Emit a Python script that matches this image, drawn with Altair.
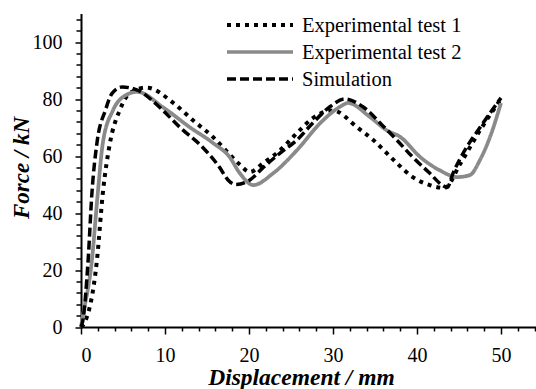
import altair as alt
import pandas as pd

# Force-displacement curves (displacement in mm, force in kN)
series_names = ["Experimental test 1", "Experimental test 2", "Simulation"]
series_colors = ["black", "#8a8a8a", "black"]
series_dashes = [[4, 5], [1, 0], [9, 4]]
series_widths = [4, 3.5, 3.5]

exp1_disp = [0, 0.5, 1.9, 2.6, 3.45, 4.6, 5.8, 7.8, 11.0, 13.3, 15.7, 17.7, 18.9, 20.1,
             21.7, 23.7, 25.7, 27.6, 30.0, 32.9, 34.8, 36.4, 37.6, 39.5, 41.5, 43.3,
             45.1, 47.5, 50.0]
exp1_force = [0, 2, 23.5, 47, 64.6, 76, 82, 84, 78.6, 72.6, 66.7, 60.5, 57, 54.4,
              57.5, 62, 68, 73.3, 76, 70, 65.6, 61, 57.5, 52.6, 49.8, 48.8,
              57, 69, 80]

exp2_disp = [0, 0.2, 1.3, 2.0, 2.6, 3.8, 5.0, 6.7, 9.8, 13.0, 15.7, 17.7, 18.9, 20.5,
             22.9, 25.7, 28.5, 30.8, 31.8, 34.4, 36.4, 38.0, 40.4, 42.7, 44.8, 46.3,
             47.5, 48.7, 50.0]
exp2_force = [0, 3.5, 23.5, 47, 64.6, 76, 80.7, 82.5, 77, 70, 64.6, 59.6, 54, 49.8,
              54, 62, 71.6, 77.2, 78.6, 73.7, 69, 66.7, 59.6, 55, 52.6, 53.3,
              58.6, 66.7, 78.6]

sim_disp = [0, 0.2, 0.85, 1.3, 1.9, 2.9, 3.7, 4.9, 6.8, 9.4, 11.8, 14.5, 16.5, 17.5,
            18.4, 20.1, 21.7, 23.7, 25.7, 27.6, 29.6, 31.4, 33.6, 35.8, 37.6, 39.5,
            41.5, 43.0, 43.6, 44.3, 45.9, 47.5, 50.0]
sim_force = [0, 2, 23.5, 47, 64.6, 76, 82, 84.2, 83, 77, 70, 63, 56, 51.6,
             50, 51.6, 56, 61, 65.6, 71.6, 77.2, 80, 77.2, 71, 65.6, 59.6,
             54, 49.8, 49, 54, 63, 70, 80.4]

x_major = [0, 10, 20, 30, 40, 50]
x_minor = [v for v in range(2, 55, 2) if v % 10]
y_major = [0, 20, 40, 60, 80, 100]
y_minor = [v for v in range(4, 110, 4) if v % 20]

rows = []
for name, xs, ys in zip(series_names,
                        [exp1_disp, exp2_disp, sim_disp],
                        [exp1_force, exp2_force, sim_force]):
    for i, (xv, yv) in enumerate(zip(xs, ys)):
        rows.append({"series": name, "disp": xv, "force": yv, "idx": i})
df = pd.DataFrame(rows)

FONT = "Liberation Serif"
x_scale = alt.Scale(domain=[0, 54.17], nice=False, zero=False)
y_scale = alt.Scale(domain=[0, 110], nice=False, zero=False)

text_style = dict(
    labelFont=FONT, labelFontSize=20, labelColor="black",
    titleFont=FONT, titleFontWeight="bold",
    titleFontStyle="italic", titleColor="black",
    domainColor="black", domainWidth=2, tickColor="black", tickWidth=1.5,
    grid=False,
)

lines = alt.Chart(df).mark_line(
    interpolate="monotone", strokeCap="butt", strokeJoin="round"
).encode(
    x=alt.X("disp:Q", scale=x_scale,
            axis=alt.Axis(orient="bottom", values=x_major, title="Displacement / mm",
                          tickSize=7, labelPadding=11, format="d", titleFontSize=23.5,
                          titleX=220, titleY=57, titleBaseline="alphabetic",
                          **text_style)),
    y=alt.Y("force:Q", scale=y_scale,
            axis=alt.Axis(orient="left", values=y_major, title="Force / kN",
                          tickSize=6, labelPadding=13, format="d", titleFontSize=23,
                          titleX=-53, titleY=154, titleBaseline="alphabetic",
                          **text_style)),
    color=alt.Color("series:N",
                    scale=alt.Scale(domain=series_names, range=series_colors),
                    legend=None),
    strokeDash=alt.StrokeDash("series:N",
                              scale=alt.Scale(domain=series_names, range=series_dashes),
                              legend=None),
    strokeWidth=alt.StrokeWidth("series:N",
                                scale=alt.Scale(domain=series_names, range=series_widths),
                                legend=None),
    order="idx:Q",
)

# Unlabelled minor tick marks on both axes
minor = alt.Chart(df).mark_point(opacity=0).encode(
    x=alt.X("disp:Q", scale=x_scale,
            axis=alt.Axis(orient="bottom", values=x_minor, labels=False, title=None,
                          domain=False, tickSize=4, tickColor="black", tickWidth=1.5,
                          grid=False)),
    y=alt.Y("force:Q", scale=y_scale,
            axis=alt.Axis(orient="left", values=y_minor, labels=False, title=None,
                          domain=False, tickSize=5, tickColor="black", tickWidth=1.5,
                          grid=False)),
)

# Legend in the upper right: a line sample and a label per series
legend_layers = []
key_left, key_right, row0, row_step = 146, 212, 11.5, 27
for i, (name, col, dash, sw) in enumerate(zip(series_names, series_colors,
                                              series_dashes, series_widths)):
    ypos = row0 + i * row_step
    entry = alt.Chart(pd.DataFrame({"series": [name]}))
    legend_layers.append(
        entry.mark_rule(color=col, strokeDash=dash, strokeWidth=sw, strokeCap="butt").encode(
            x=alt.value(key_left), x2=alt.value(key_right), y=alt.value(ypos))
    )
    legend_layers.append(
        entry.mark_text(align="left", baseline="alphabetic", font=FONT, fontSize=20.5,
                        color="black").encode(
            x=alt.value(key_right + 9), y=alt.value(ypos + 6.6), text="series:N")
    )

chart = alt.layer(lines, minor, *legend_layers).resolve_axis(
    x="independent", y="independent"
).properties(
    width=455, height=313.5,
    autosize=alt.AutoSizeParams(type="none"),
    padding={"left": 81, "top": 13.5, "right": 0, "bottom": 62},
).configure_view(stroke=None).configure_axis(
    grid=False,
    labelFont=FONT, titleFont=FONT,
)

chart.save("out.html", embed_options={"renderer": "svg", "actions": False})
